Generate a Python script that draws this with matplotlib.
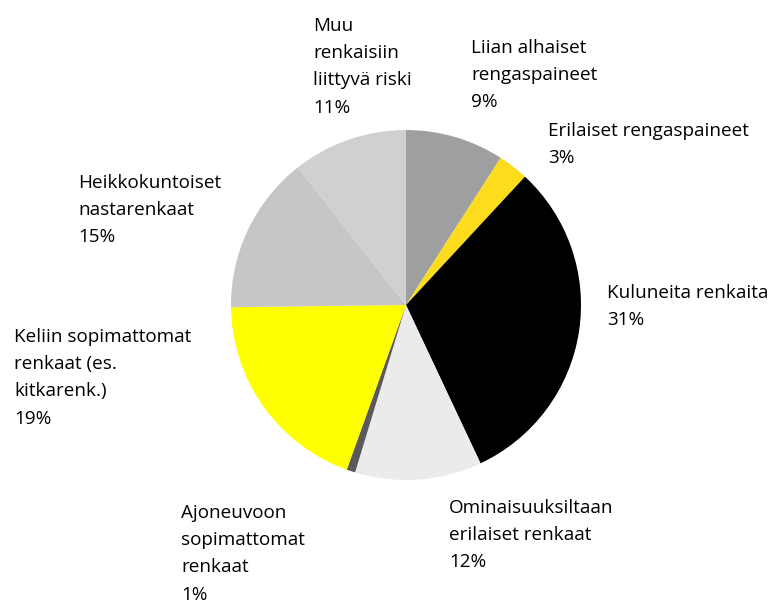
import matplotlib.pyplot as plt

W, H = 778, 604

labels = [
    "Liian alhaiset\nrengaspaineet",
    "Erilaiset rengaspaineet",
    "Kuluneita renkaita",
    "Ominaisuuksiltaan\nerilaiset renkaat",
    "Ajoneuvoon\nsopimattomat\nrenkaat",
    "Keliin sopimattomat\nrenkaat (es.\nkitkarenk.)",
    "Heikkokuntoiset\nnastarenkaat",
    "Muu\nrenkaisiin\nliittyvä riski",
]
values = [9.1, 2.8, 31.1, 11.7, 0.8, 19.3, 14.6, 10.6]
colors = ["#9d9fa1", "#fcdc1c", "#000000", "#ebebeb", "#5a5a5c", "#ffff00", "#c5c6c5", "#d0d0d0"]
pct_labels = ["9%", "3%", "31%", "12%", "1%", "19%", "15%", "11%"]

# top-left of each label block, in pixels
label_pos = [(471, 39), (548, 122), (607, 284), (449, 499), (181, 504), (14, 328), (78, 174), (313, 17)]

plt.rcParams['font.family'] = ['Open Sans', 'DejaVu Sans']

fig = plt.figure(figsize=(W / 100, H / 100), dpi=100)
cx, cy, r = 406, 305, 175
ax = fig.add_axes([(cx - r) / W, (H - cy - r) / H, 2 * r / W, 2 * r / H])
ax.pie(values, colors=colors, startangle=90, counterclock=False, radius=1,
       wedgeprops=dict(linewidth=0))
ax.set_xlim(-1, 1)
ax.set_ylim(-1, 1)
ax.set_aspect('equal')
ax.axis('off')

for lab, pct, (x, y) in zip(labels, pct_labels, label_pos):
    fig.text(x / W, 1 - y / H, lab + "\n" + pct, ha='left', va='top',
             fontsize=13.6, linespacing=1.66, color='#000000')

fig.savefig("out.png", dpi=100)
